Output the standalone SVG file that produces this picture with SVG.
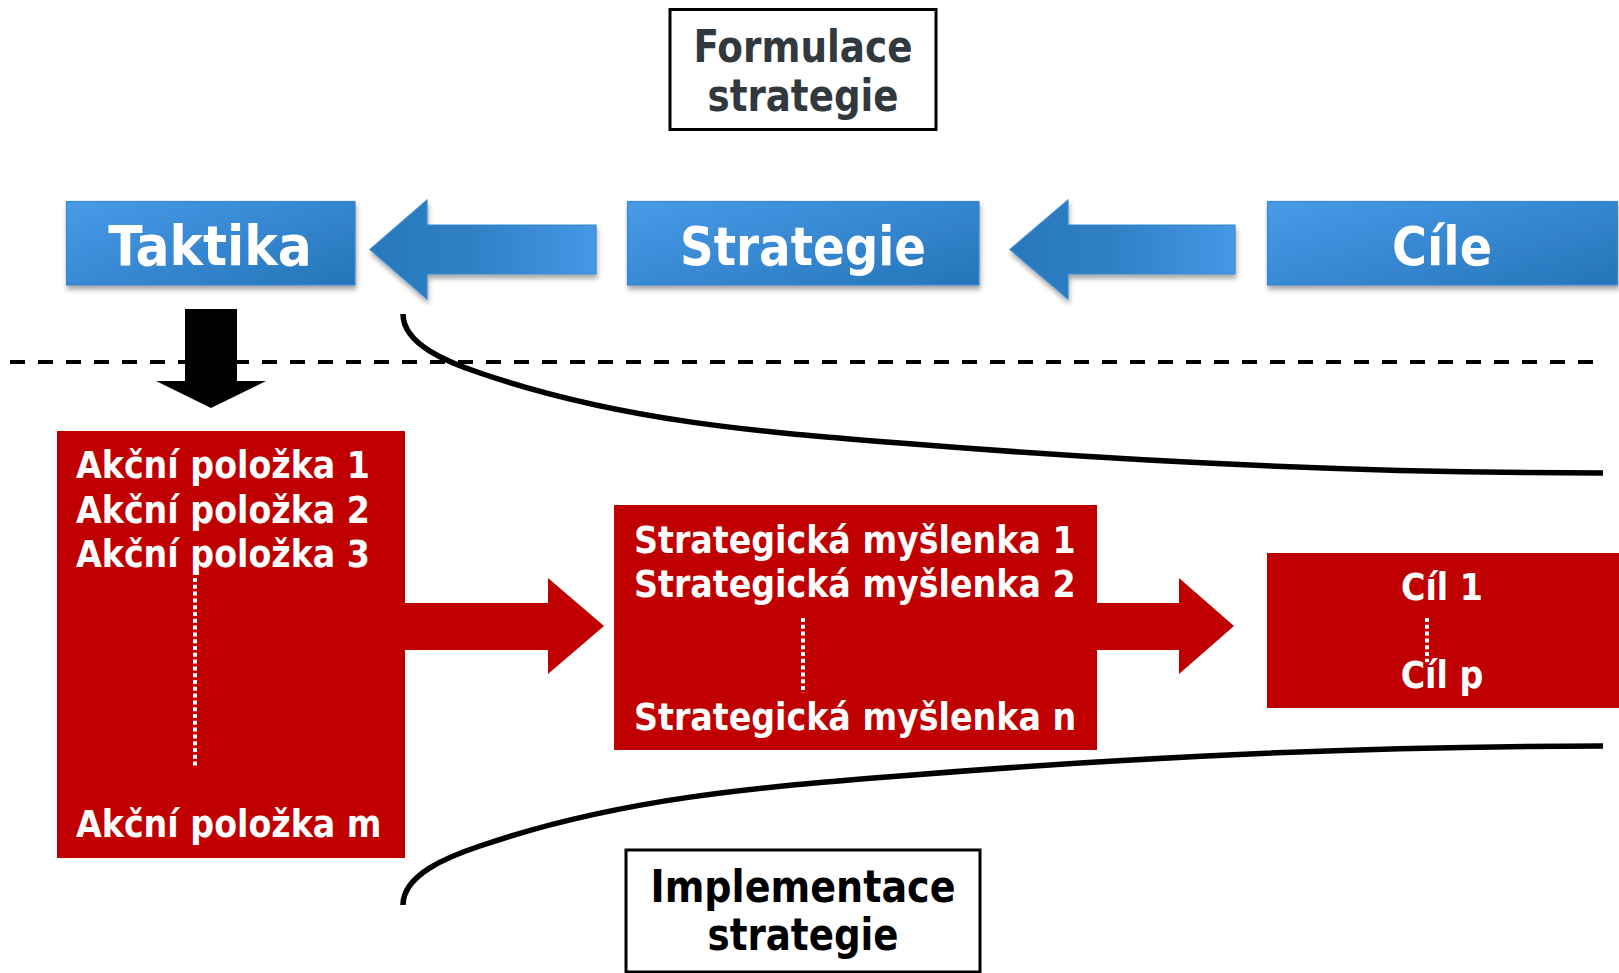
<svg xmlns="http://www.w3.org/2000/svg" width="1619" height="973" viewBox="0 0 1619 973">
  <defs>
    <linearGradient id="gBox" x1="0" y1="0.1" x2="1" y2="0.9">
      <stop offset="0" stop-color="#4799E6"/>
      <stop offset="0.55" stop-color="#3586D0"/>
      <stop offset="1" stop-color="#2677B9"/>
    </linearGradient>
    <linearGradient id="gArrow" x1="0" y1="0" x2="1" y2="0">
      <stop offset="0" stop-color="#2878BB"/>
      <stop offset="0.45" stop-color="#2F80C5"/>
      <stop offset="1" stop-color="#4698E5"/>
    </linearGradient>
    <filter id="shadow" x="-10%" y="-20%" width="120%" height="150%">
      <feGaussianBlur in="SourceAlpha" stdDeviation="2.5"/>
      <feOffset dx="1" dy="4" result="blur"/>
      <feFlood flood-color="#000" flood-opacity="0.35"/>
      <feComposite in2="blur" operator="in"/>
      <feMerge>
        <feMergeNode/>
        <feMergeNode in="SourceGraphic"/>
      </feMerge>
    </filter>
  </defs>
  <style>
    .blue-box { fill: url(#gBox); stroke: #3A86CC; stroke-width: 1.2; filter: url(#shadow); }
    .blue-arrow { fill: url(#gArrow); stroke: #3A88CF; stroke-width: 1.2; filter: url(#shadow); }
    .txt { font-family: "DejaVu Sans Condensed", "DejaVu Sans", sans-serif; font-stretch: condensed; font-weight: bold; }
    .blue-label { font-size: 53px; fill: #fff; text-anchor: middle; }
    .red { fill: #C00000; }
    .red-label { font-size: 37px; fill: #fff; }
    .dots { stroke: #fff; stroke-width: 4; stroke-dasharray: 4 2.8; fill: none; }
    .frame { fill: #fff; stroke: #000; stroke-width: 3; }
    .frame-label { font-size: 45px; text-anchor: middle; }
    .curve { fill: none; stroke: #000; stroke-width: 5.5; }
    .divider { stroke: #000; stroke-width: 4; stroke-dasharray: 15 13; }
  </style>

  <rect width="1619" height="973" fill="#fff"/>

  <!-- phase labels -->
  <g id="formulace">
    <rect class="frame" x="670" y="9.5" width="266" height="120"/>
    <text class="txt frame-label" x="803" y="62" fill="#32393E" textLength="219" lengthAdjust="spacingAndGlyphs">Formulace</text>
    <text class="txt frame-label" x="803" y="111" fill="#32393E" textLength="191" lengthAdjust="spacingAndGlyphs">strategie</text>
  </g>
  <g id="implementace">
    <rect class="frame" x="626" y="850" width="354" height="122"/>
    <text class="txt frame-label" x="803" y="902" fill="#000" textLength="305" lengthAdjust="spacingAndGlyphs">Implementace</text>
    <text class="txt frame-label" x="803" y="950" fill="#000" textLength="191" lengthAdjust="spacingAndGlyphs">strategie</text>
  </g>

  <!-- connectors: divider, bracket curves, arrows -->
  <g id="connectors">
    <line class="divider" x1="10" y1="362" x2="1596" y2="362"/>
    <path class="curve" d="M403,314 C403,345 450,363 480,373 C620,421 760,432 900,443 C1134,462 1369,473 1603,473"/>
    <path class="curve" d="M403,905 C403,874 450,856 480,846 C620,798 760,787 900,776 C1134,757 1369,746 1603,746"/>
    <polygon class="blue-arrow" points="370,249.5 427,200 427,225 596,225 596,274 427,274 427,299"/>
    <polygon class="blue-arrow" points="1010,249.5 1068,200 1068,225 1235,225 1235,274 1068,274 1068,299"/>
    <polygon fill="#000" points="185,309 237,309 237,381 266,381 211,408 156,381 185,381"/>
    <polygon class="red" points="404,603 548,603 548,578 604,626 548,674 548,650 404,650"/>
    <polygon class="red" points="1096,603 1179,603 1179,578 1234,626 1179,674 1179,650 1096,650"/>
  </g>

  <!-- top row -->
  <g id="taktika">
    <rect class="blue-box" x="66.5" y="201.5" width="288.5" height="83.5"/>
    <text class="txt blue-label" x="210" y="265" style="font-size:56px">Taktika</text>
  </g>
  <g id="strategie">
    <rect class="blue-box" x="627.5" y="201.5" width="351.5" height="83.5"/>
    <text class="txt blue-label" x="803" y="265" textLength="246" lengthAdjust="spacingAndGlyphs">Strategie</text>
  </g>
  <g id="cile">
    <rect class="blue-box" x="1267.5" y="201.5" width="350" height="83.5"/>
    <text class="txt blue-label" x="1442" y="265">Cíle</text>
  </g>

  <!-- implementation row -->
  <g id="akcni-polozky">
    <rect class="red" x="57" y="431" width="348" height="427"/>
    <text class="txt red-label" x="76" y="478">Akční položka 1</text>
    <text class="txt red-label" x="76" y="523">Akční položka 2</text>
    <text class="txt red-label" x="76" y="567">Akční položka 3</text>
    <line class="dots" x1="195" y1="578" x2="195" y2="767"/>
    <text class="txt red-label" x="76" y="837">Akční položka m</text>
  </g>
  <g id="strategicke-myslenky">
    <rect class="red" x="614" y="505" width="483" height="245"/>
    <text class="txt red-label" x="634" y="553">Strategická myšlenka 1</text>
    <text class="txt red-label" x="634" y="597">Strategická myšlenka 2</text>
    <line class="dots" x1="803" y1="618" x2="803" y2="693"/>
    <text class="txt red-label" x="634" y="730">Strategická myšlenka n</text>
  </g>
  <g id="cile-seznam">
    <rect class="red" x="1267" y="553" width="352" height="155"/>
    <text class="txt red-label" x="1442" y="600" text-anchor="middle">Cíl 1</text>
    <line class="dots" x1="1427" y1="618" x2="1427" y2="662"/>
    <text class="txt red-label" x="1442" y="688" text-anchor="middle">Cíl p</text>
  </g>
</svg>
